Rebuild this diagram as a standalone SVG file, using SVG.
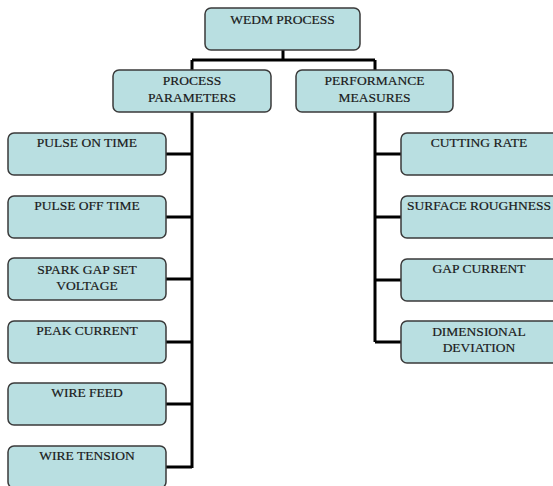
<svg xmlns="http://www.w3.org/2000/svg" width="553" height="486" viewBox="0 0 553 486">
<style>
.b{fill:#b9dfe1;stroke:#3a3a3a;stroke-width:1.5}
.t{font-family:"Liberation Serif","Times New Roman",serif;font-size:13.5px;fill:#1a1a1a;text-anchor:middle;stroke:#1a1a1a;stroke-width:0.2}
.c{stroke:#000;stroke-width:3;fill:none}
</style>
<rect width="553" height="486" fill="#fff"/>
<g id="connectors">
<path class="c" d="M283 50V60M192 60H375M192 60V70M375 60V70"/>
<path class="c" d="M192 112V468M166 154H192M166 217H192M166 279H192M166 342H192M166 404H192M166 467H192"/>
<path class="c" d="M375 112V342M375 154H401M375 217H401M375 280H401M375 342H401"/>
</g>
<g id="wedm"><rect class="b" x="205" y="8" width="155" height="42" rx="6"/><text class="t" x="282.5" y="24">WEDM PROCESS</text></g>
<g id="pp"><rect class="b" x="113" y="70" width="158" height="42" rx="6"/><text class="t" x="192" y="85">PROCESS</text><text class="t" x="192" y="102">PARAMETERS</text></g>
<g id="pm"><rect class="b" x="296" y="70" width="157" height="42" rx="6"/><text class="t" x="374.5" y="85">PERFORMANCE</text><text class="t" x="374.5" y="102">MEASURES</text></g>
<g id="p1"><rect class="b" x="8" y="133" width="158" height="42" rx="6"/><text class="t" x="87" y="147">PULSE ON TIME</text></g>
<g id="p2"><rect class="b" x="8" y="196" width="158" height="42" rx="6"/><text class="t" x="87" y="210">PULSE OFF TIME</text></g>
<g id="p3"><rect class="b" x="8" y="258" width="158" height="42" rx="6"/><text class="t" x="87" y="274">SPARK GAP SET</text><text class="t" x="87" y="290">VOLTAGE</text></g>
<g id="p4"><rect class="b" x="8" y="321" width="158" height="42" rx="6"/><text class="t" x="87" y="335">PEAK CURRENT</text></g>
<g id="p5"><rect class="b" x="8" y="383" width="158" height="42" rx="6"/><text class="t" x="87" y="397">WIRE FEED</text></g>
<g id="p6"><rect class="b" x="8" y="446" width="158" height="42" rx="6"/><text class="t" x="87" y="460">WIRE TENSION</text></g>
<g id="m1"><rect class="b" x="401" y="133" width="158" height="42" rx="6"/><text class="t" x="479" y="147">CUTTING RATE</text></g>
<g id="m2"><rect class="b" x="401" y="196" width="158" height="42" rx="6"/><text class="t" x="479" y="210">SURFACE ROUGHNESS</text></g>
<g id="m3"><rect class="b" x="401" y="259" width="158" height="42" rx="6"/><text class="t" x="479" y="273">GAP CURRENT</text></g>
<g id="m4"><rect class="b" x="401" y="321" width="158" height="42" rx="6"/><text class="t" x="479" y="336">DIMENSIONAL</text><text class="t" x="479" y="352">DEVIATION</text></g>
</svg>
